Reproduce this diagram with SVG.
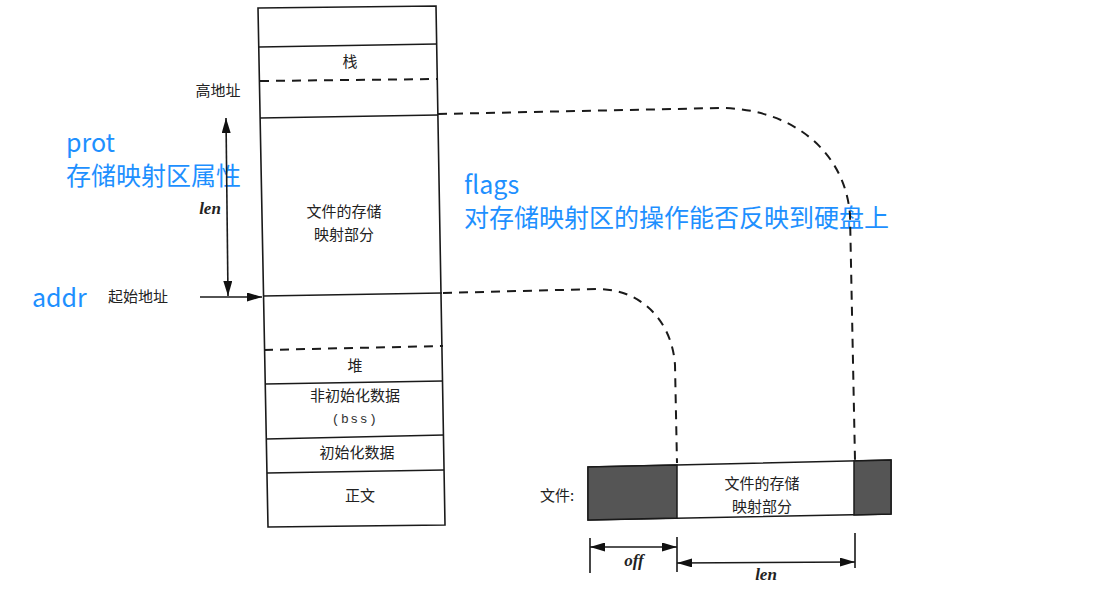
<svg xmlns="http://www.w3.org/2000/svg" width="1114" height="590" viewBox="0 0 1114 590">
<style>
.ln{stroke:#1a1a1a;stroke-width:1.6;fill:none}
.ds{stroke:#1a1a1a;stroke-width:2;fill:none;stroke-dasharray:9,7}
.t{font-family:"Noto Sans CJK SC","Liberation Sans",sans-serif;font-size:15px;fill:#222;text-anchor:middle}
.it{font-family:"Liberation Serif",serif;font-style:italic;font-weight:bold;font-size:17px;fill:#222;text-anchor:middle}
.b{font-family:"Noto Sans CJK SC","Liberation Sans",sans-serif;font-size:25px;fill:#1E90FF}
.dk{fill:#555;stroke:#1a1a1a;stroke-width:1.5}
</style>
<defs>
<marker id="ah" viewBox="0 0 15 9" refX="15" refY="4.5" markerWidth="15" markerHeight="9" markerUnits="userSpaceOnUse" orient="auto-start-reverse">
<path d="M0,0 L15,4.5 L0,9 Z" fill="#111"/>
</marker>
</defs>
<rect width="1114" height="590" fill="#fff"/>

<g id="memory">
<path class="ln" d="M258,8 L436,6 L445,525 L268,527 Z"/>
<path class="ln" d="M259,47 L437,44"/>
<path class="ds" d="M260,81 L438,79"/>
<path class="ln" d="M260,118 L438,115"/>
<path class="ln" d="M263,296 L442,293"/>
<path class="ds" d="M264,350 L443,346"/>
<path class="ln" d="M265,384 L443,381"/>
<path class="ln" d="M266,439 L444,435"/>
<path class="ln" d="M267,473 L444,470"/>
<text class="t" x="350" y="67">栈</text>
<text class="t" x="344" y="217">文件的存储</text>
<text class="t" x="344" y="240">映射部分</text>
<text class="t" x="355" y="371">堆</text>
<text class="t" x="355" y="401">非初始化数据</text>
<text x="355" y="423" font-family="'Liberation Mono',monospace" font-size="13" fill="#333" text-anchor="middle" letter-spacing="1.5">(bss)</text>
<text class="t" x="357" y="458">初始化数据</text>
<text class="t" x="360" y="501">正文</text>
</g>

<g id="labels-left">
<text class="t" x="218" y="96">高地址</text>
<text class="t" x="138" y="302">起始地址</text>
<text class="it" x="210" y="214">len</text>
<text class="b" x="66" y="152">prot</text>
<text class="b" x="66" y="185">存储映射区属性</text>
<text class="b" x="32" y="307">addr</text>
<text class="b" x="464" y="194">flags</text>
<text class="b" x="464" y="227">对存储映射区的操作能否反映到硬盘上</text>
</g>

<g id="file">
<path d="M588,467 L891,460 L891,514 L588,520 Z" fill="#fff" stroke="#1a1a1a" stroke-width="1.5"/>
<path class="dk" d="M588,467 L677,465 L677,518 L588,520 Z"/>
<path class="dk" d="M854,461 L891,460 L891,514 L854,515 Z"/>
<text class="t" x="557" y="501">文件:</text>
<text class="t" x="762" y="489">文件的存储</text>
<text class="t" x="762" y="512">映射部分</text>
</g>

<g id="connectors">
<path class="ln" d="M226,118 L228,296" marker-start="url(#ah)" marker-end="url(#ah)"/>
<path class="ln" d="M200,297 L262,297" marker-end="url(#ah)"/>
<path class="ds" d="M438,114 L720,108 C790,108 845,150 850,215 L855,460"/>
<path class="ds" d="M443,293 L598,289 C640,289 672,320 675,365 L677,463"/>
<path class="ln" d="M590,538 L590,573 M677,537 L677,572 M855,533 L855,568"/>
<path class="ln" d="M590,547 L677,547" marker-start="url(#ah)" marker-end="url(#ah)"/>
<path class="ln" d="M677,563 L855,562" marker-start="url(#ah)" marker-end="url(#ah)"/>
<text class="it" x="634" y="566">off</text>
<text class="it" x="766" y="580">len</text>
</g>
</svg>
